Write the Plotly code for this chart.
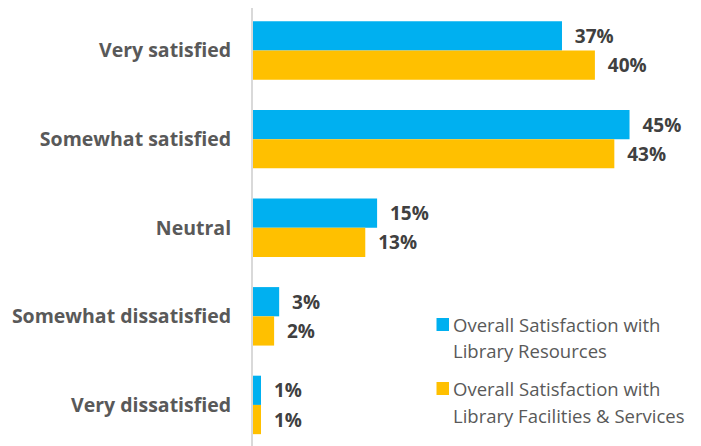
import plotly.graph_objects as go

categories = ["Very satisfied", "Somewhat satisfied", "Neutral",
              "Somewhat dissatisfied", "Very dissatisfied"]
resources = [36.6, 44.6, 14.7, 3.1, 0.95]
facilities = [40.5, 42.8, 13.3, 2.5, 0.95]
resources_labels = ["37%", "45%", "15%", "3%", "1%"]
facilities_labels = ["40%", "43%", "13%", "2%", "1%"]
series_names = ["Overall Satisfaction with<br>Library Resources",
                "Overall Satisfaction with<br>Library Facilities & Services"]

BLUE = "#00B0F0"
GOLD = "#FFC000"
FONT = "Open Sans"

W, H = 701, 443
L, R, T, B = 245, 17, 0, 0
PW, PH = W - L - R, H - T - B


def px(x):
    # figure pixel -> paper x
    return (x - L) / PW


def py(y):
    # figure pixel -> paper y
    return 1 - (y - T) / PH


label_font = dict(family=FONT, size=19, color="#404040", weight="bold")

fig = go.Figure()
for vals, labels, color, name in [(resources, resources_labels, BLUE, series_names[0]),
                                  (facilities, facilities_labels, GOLD, series_names[1])]:
    fig.add_trace(go.Bar(
        y=categories, x=vals, orientation="h", name=name,
        marker=dict(color=color, line=dict(width=0)),
        text=["  " + t for t in labels],
        textposition="outside", cliponaxis=False,
        textfont=label_font,
        showlegend=False,
    ))

# legend drawn by hand so the swatch sits close to the text
legend_rows = [
    (BLUE, 310, ["Overall Satisfaction with", "Library Resources"], [316, 342]),
    (GOLD, 374, ["Overall Satisfaction with", "Library Facilities & Services"], [380.5, 407]),
]
for color, sq_top, lines, ys in legend_rows:
    fig.add_shape(type="rect", xref="paper", yref="paper",
                  x0=px(428.5), x1=px(441), y0=py(sq_top + 13), y1=py(sq_top),
                  fillcolor=color, line=dict(width=0))
    for line, y in zip(lines, ys):
        fig.add_annotation(xref="paper", yref="paper", x=px(443), y=py(y),
                           xanchor="left", yanchor="middle", showarrow=False,
                           text=line,
                           font=dict(family=FONT, size=18.5, color="#595959"))

fig.update_layout(
    width=W, height=H,
    barmode="group", bargap=0.34, bargroupgap=0,
    plot_bgcolor="white", paper_bgcolor="white",
    margin=dict(l=L, r=R, t=T, b=B),
    font=dict(family=FONT, color="#595959"),
    showlegend=False,
)
fig.update_xaxes(range=[0, 52], visible=False, showgrid=False)
fig.update_yaxes(
    range=[4.52, -0.48], showline=True, linecolor="#D9D9D9", linewidth=2,
    showgrid=False, ticks="", ticklabelstandoff=16,
    tickfont=dict(family=FONT, size=19.5, color="#595959", weight="bold"),
)

fig.write_html("out.html")
